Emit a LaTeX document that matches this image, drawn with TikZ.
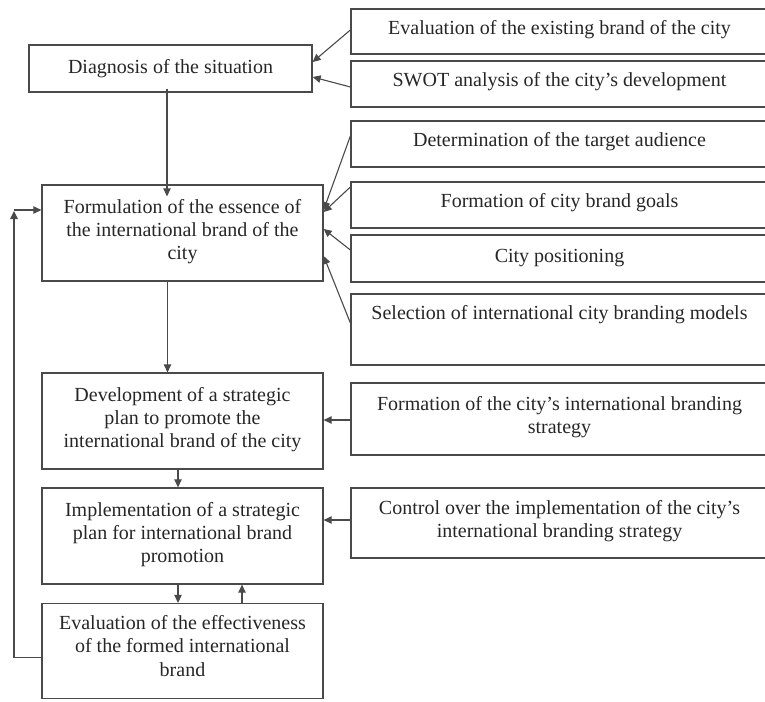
\documentclass[tikz,border=0pt]{standalone}
\usepackage{fontspec}
\setmainfont{Liberation Serif}
\usetikzlibrary{arrows.meta}
\definecolor{ln}{HTML}{4A4A4A}
\definecolor{tx}{HTML}{262626}
\newcommand{\apos}{\char"0027\relax}
\begin{document}
\begin{tikzpicture}[x=1pt,y=-1pt,
  box/.style={draw=ln, line width=1.3pt, inner sep=0pt, align=center, text=tx,
    font=\fontsize{20}{23.3}\selectfont},
  lbox/.style={box, minimum width=281pt, minimum height=96pt},
  rbox/.style={box, minimum width=417pt},
  arr/.style={draw=ln, line width=1.1pt, -{Triangle[length=8pt,width=7.5pt]}}]
\useasboundingbox (0,0) rectangle (765,701);

% left column
\node[box, minimum width=283pt, minimum height=47pt] (diag) at (170.5,68.5) {Diagnosis of the situation};
\node[lbox] (form) at (182.5,233) {Formulation of the essence of\\the international brand of the\\city\\[-16pt]};
\node[lbox] (dev) at (182.5,421) {Development of a strategic\\plan to promote the\\international brand of the city\\[-16pt]};
\node[lbox] (impl) at (182.5,536) {Implementation of a strategic\\plan for international brand\\promotion\\[-16pt]};
\node[lbox, minimum height=95pt] (ev) at (182.5,651) {Evaluation of the effectiveness\\of the formed international\\brand\\[-13pt]};

% right column
\node[rbox, minimum height=45pt] (e1) at (559.5,31.5) {Evaluation of the existing brand of the city\\[-16pt]};
\node[rbox, minimum height=46pt] (swot) at (559.5,84) {SWOT analysis of the city\apos s development\\[-15pt]};
\node[rbox, minimum height=46pt] (det) at (559.5,144) {Determination of the target audience\\[-15pt]};
\node[rbox, minimum height=46pt] (goal) at (559.5,205) {Formation of city brand goals\\[-15pt]};
\node[rbox, minimum height=47pt] (pos) at (559.5,258.5) {City positioning\\[-18pt]};
\node[rbox, minimum height=71pt] (sel) at (559.5,329.5) {Selection of international city branding models\\[10pt]\mbox{}};
\node[rbox, minimum height=72pt] (strat) at (559.5,419) {Formation of the city\apos s international branding\\strategy\\[-15pt]};
\node[rbox, minimum height=70pt] (ctrl) at (559.5,523) {Control over the implementation of the city\apos s\\international branding strategy\\[-15pt]};

\coordinate (fbtop) at (14,210);

% connectors
\draw[arr] ([yshift=1.5pt]e1.west) -- ([yshift=6.5pt]diag.east);
\draw[arr] ([yshift=-3pt]swot.west) -- ([yshift=-8.5pt]diag.east);
\draw[arr] ([yshift=8pt]det.west) -- ([yshift=23pt]form.east);
\draw[arr] ([yshift=18pt]goal.west) -- ([yshift=21pt]form.east);
\draw[arr] ([yshift=8.5pt]pos.west) -- ([yshift=4pt]form.east);
\draw[arr] ([yshift=6.5pt]sel.west) -- ([yshift=-23pt]form.east);
\draw[arr] ([xshift=-3.5pt,yshift=4pt]diag.south) -- ([xshift=-15.5pt,yshift=-12pt]form.north);
\draw[arr] ([xshift=-15pt]form.south) -- ([xshift=-15pt]dev.north);
\draw[arr] ([xshift=-4.5pt]dev.south) -- ([xshift=-4.5pt]impl.north);
\draw[arr] ([xshift=-4.5pt]impl.south) -- ([xshift=-4.5pt]ev.north);
\draw[arr] ([xshift=59.5pt]ev.north) -- ([xshift=59.5pt]impl.south);
\draw[arr] ([yshift=-6.5pt]ev.west) -| ([yshift=-1pt]fbtop);
\draw[arr] (fbtop) -- ([yshift=23pt]form.west);
\draw[arr] ([yshift=-1pt]strat.west) -- ([yshift=-1pt]strat.west -| dev.east);
\draw[arr] ([yshift=3pt]ctrl.west) -- ([yshift=3pt]ctrl.west -| impl.east);
\end{tikzpicture}
\end{document}
